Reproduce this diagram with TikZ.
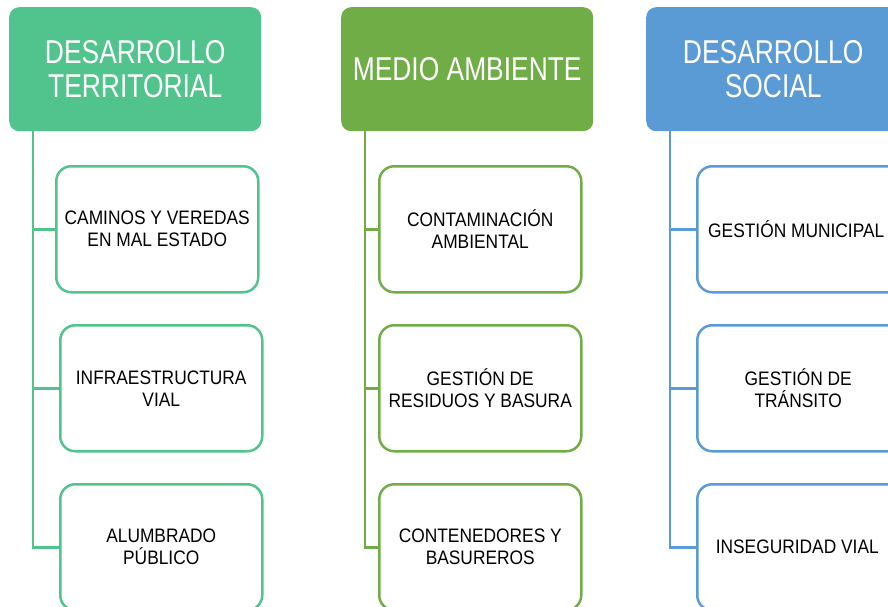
\documentclass[tikz,border=0pt]{standalone}
\usepackage{fontspec}
\setmainfont{Liberation Sans}
\newfontfamily\headfont[FakeStretch=0.8]{Liberation Sans}
\newfontfamily\childfont[FakeStretch=0.89]{Liberation Sans}
\definecolor{cgreen}{HTML}{50C48C}
\definecolor{cleaf}{HTML}{70AD47}
\definecolor{cblue}{HTML}{5B9BD5}
\tikzset{
  head/.style={rectangle, rounded corners=10pt, minimum width=252pt, minimum height=124pt,
    anchor=north west, inner sep=0pt, text=white, align=center,
    font=\headfont\fontsize{33}{34}\selectfont},
  childbox/.style={rectangle, rounded corners=15pt, draw=#1, line width=2.5pt, fill=white,
    minimum width=202pt, minimum height=126pt, anchor=north west, inner sep=0pt,
    align=center, text=black, font=\childfont\fontsize{19.5}{22}\selectfont},
  conn/.style={draw=#1, line width=2.5pt}
}
\begin{document}
\begin{tikzpicture}[x=1pt,y=-1pt]
\useasboundingbox (0,0) rectangle (888,607);
\clip (0,0) rectangle (888,607);
% headers
\node[head, fill=cgreen] (h1) at (9,7) {DESARROLLO\\TERRITORIAL};
\node[head, fill=cleaf] (h2) at (341,7) {MEDIO AMBIENTE};
\node[head, fill=cblue, minimum width=254pt] (h3) at (646,7) {DESARROLLO\\SOCIAL};
% spine coordinates
\coordinate (s1) at (33,131);
\coordinate (s2) at (365,131);
\coordinate (s3) at (670,131);
% column 1
\node[childbox=cgreen] (c1a) at (55,165) {CAMINOS Y VEREDAS\\EN MAL ESTADO};
\node[childbox=cgreen] (c1b) at (59,324) {INFRAESTRUCTURA\\VIAL};
\node[childbox=cgreen] (c1c) at (59,483) {ALUMBRADO\\PÚBLICO};
% column 2
\node[childbox=cleaf] (c2a) at (378,165) {CONTAMINACIÓN\\AMBIENTAL};
\node[childbox=cleaf] (c2b) at (378,324) {GESTIÓN DE\\RESIDUOS Y BASURA};
\node[childbox=cleaf] (c2c) at (378,483) {CONTENEDORES Y\\BASUREROS};
% column 3
\node[childbox=cblue, minimum width=210pt] (c3a) at (696,165) {GESTIÓN MUNICIPAL\hspace*{12pt}};
\node[childbox=cblue, minimum width=210pt] (c3b) at (696,324) {GESTIÓN DE\hspace*{8pt}\\TRÁNSITO\hspace*{8pt}};
\node[childbox=cblue, minimum width=210pt] (c3c) at (696,483) {INSEGURIDAD VIAL\hspace*{10pt}};
% connectors
\draw[conn=cgreen] (s1) |- (c1a.west);
\draw[conn=cgreen] (s1) |- (c1b.west);
\draw[conn=cgreen] (s1) |- (c1c.west);
\draw[conn=cleaf] (s2) |- (c2a.west);
\draw[conn=cleaf] (s2) |- (c2b.west);
\draw[conn=cleaf] (s2) |- (c2c.west);
\draw[conn=cblue] (s3) |- (c3a.west);
\draw[conn=cblue] (s3) |- (c3b.west);
\draw[conn=cblue] (s3) |- (c3c.west);
\end{tikzpicture}
\end{document}
